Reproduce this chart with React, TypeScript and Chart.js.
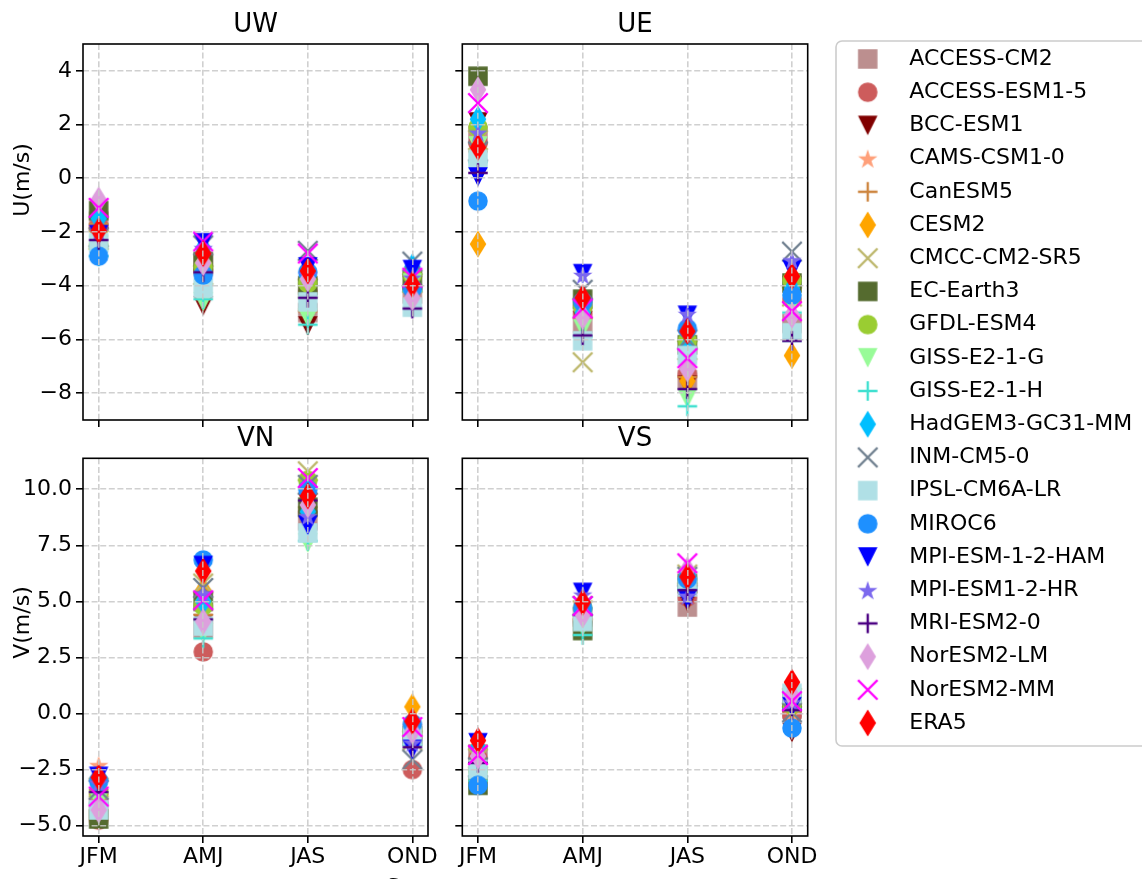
import React, { useEffect, useRef } from 'react';
import { Chart, registerables } from 'chart.js';

Chart.register(...registerables);

const FONT = '"DejaVu Sans", sans-serif';

// ---------- data ----------
const SEASONS = ['JFM', 'AMJ', 'JAS', 'OND'];

const MODELS = [
  'ACCESS-CM2', 'ACCESS-ESM1-5', 'BCC-ESM1', 'CAMS-CSM1-0', 'CanESM5', 'CESM2',
  'CMCC-CM2-SR5', 'EC-Earth3', 'GFDL-ESM4', 'GISS-E2-1-G', 'GISS-E2-1-H',
  'HadGEM3-GC31-MM', 'INM-CM5-0', 'IPSL-CM6A-LR', 'MIROC6', 'MPI-ESM-1-2-HAM',
  'MPI-ESM1-2-HR', 'MRI-ESM2-0', 'NorESM2-LM', 'NorESM2-MM', 'ERA5',
];

const COLORS = [
  '#bc8f8f', '#cd5c5c', '#800000', '#ffa07a', '#cd853f', '#ffa500',
  '#bdb76b', '#556b2f', '#9acd32', '#98fb98', '#40e0d0',
  '#00bfff', '#708090', '#b0e0e6', '#1e90ff', '#0000ff',
  '#7b68ee', '#4b0082', '#dda0dd', '#ff00ff', '#ff0000',
];

const MARKERS = ['s', 'o', 'v', '*', '+', 'd', 'x', 's', 'o', 'v', '+', 'd', 'x', 's', 'o', 'v', '*', '+', 'd', 'x', 'd'];

// rows follow MODELS order; columns follow SEASONS
const UW_VALUES = [
  [-1.6, -3.2, -5.0, -4.3],
  [-1.8, -3.5, -4.2, -4.1],
  [-2.2, -4.75, -5.5, -4.0],
  [-1.9, -3.3, -4.0, -3.8],
  [-1.7, -3.4, -4.95, -4.2],
  [-2.0, -3.0, -3.9, -4.0],
  [-2.3, -3.6, -4.1, -3.9],
  [-1.2, -3.1, -4.0, -3.8],
  [-2.5, -3.3, -3.9, -3.6],
  [-2.5, -4.6, -5.2, -3.9],
  [-2.9, -4.5, -5.45, -4.2],
  [-1.5, -2.6, -3.4, -3.3],
  [-2.2, -2.5, -2.7, -3.1],
  [-2.4, -4.1, -4.6, -4.8],
  [-2.9, -3.6, -3.5, -4.1],
  [-2.1, -2.4, -3.3, -3.4],
  [-2.0, -2.6, -3.6, -3.7],
  [-2.3, -3.5, -4.45, -4.85],
  [-0.8, -3.15, -3.75, -4.45],
  [-1.1, -2.35, -2.8, -3.7],
  [-1.95, -2.8, -3.45, -3.95],
];

const UE_VALUES = [
  [1.6, -5.4, -7.5, -5.4],
  [1.3, -5.0, -7.3, -4.5],
  [2.1, -5.3, -7.7, -4.0],
  [1.5, -4.9, -6.9, -4.2],
  [1.0, -5.2, -7.4, -4.6],
  [-2.45, -4.7, -7.55, -6.6],
  [1.42, -6.85, -6.4, -4.4],
  [3.8, -4.5, -6.2, -3.9],
  [1.9, -4.8, -6.05, -3.8],
  [1.2, -5.6, -8.2, -4.7],
  [0.6, -5.9, -8.49, -5.0],
  [2.2, -5.0, -6.3, -4.1],
  [1.0, -4.15, -6.0, -2.73],
  [0.7, -6.05, -6.6, -5.75],
  [-0.85, -4.6, -5.6, -4.35],
  [0.05, -3.55, -5.1, -3.4],
  [1.7, -3.6, -5.05, -3.05],
  [0.2, -5.85, -7.85, -6.05],
  [3.3, -5.15, -7.1, -5.1],
  [2.8, -4.85, -6.7, -4.95],
  [1.15, -4.45, -5.7, -3.65],
];

const VN_VALUES = [
  [-4.2, 3.8, 8.6, -0.9],
  [-4.75, 2.75, 9.0, -2.5],
  [-3.8, 4.0, 9.4, -1.5],
  [-2.3, 5.2, 10.0, -0.8],
  [-3.6, 4.4, 9.2, -1.1],
  [-3.2, 5.5, 10.3, 0.3],
  [-3.3, 5.8, 10.8, -1.2],
  [-4.7, 5.0, 9.2, -1.0],
  [-3.5, 4.8, 10.4, -0.8],
  [-3.9, 3.6, 7.6, -1.3],
  [-4.0, 3.35, 7.7, -1.4],
  [-3.2, 5.0, 9.0, -0.6],
  [-3.4, 5.6, 10.2, -2.05],
  [-4.3, 3.9, 8.05, -1.0],
  [-3.0, 6.85, 10.0, -0.45],
  [-2.8, 6.6, 8.4, -1.6],
  [-3.1, 5.35, 8.8, -1.3],
  [-3.5, 4.2, 9.5, -1.5],
  [-4.3, 4.1, 9.3, -0.8],
  [-3.7, 5.05, 10.5, -0.6],
  [-2.85, 6.35, 9.7, -0.35],
];

const VS_VALUES = [
  [-1.8, 4.3, 4.75, 0.2],
  [-2.0, 4.1, 5.2, -0.1],
  [-3.2, 3.9, 5.0, -0.85],
  [-2.3, 4.4, 5.5, 0.0],
  [-2.5, 4.2, 5.4, 0.1],
  [-2.2, 4.5, 5.9, 0.3],
  [-2.0, 4.6, 6.2, 0.7],
  [-3.2, 3.7, 5.8, 0.6],
  [-2.6, 4.7, 6.0, 0.4],
  [-2.8, 3.9, 5.9, 0.4],
  [-3.0, 3.5, 5.6, 0.2],
  [-1.5, 4.9, 6.3, 0.8],
  [-2.4, 4.8, 6.1, 0.05],
  [-2.5, 4.1, 5.65, 0.9],
  [-3.2, 4.7, 6.0, -0.65],
  [-1.3, 5.4, 5.1, 0.3],
  [-1.6, 5.3, 5.25, 0.5],
  [-2.2, 4.4, 5.5, 0.15],
  [-1.9, 4.4, 6.4, 0.8],
  [-1.85, 4.8, 6.7, 0.55],
  [-1.2, 4.95, 6.1, 1.4],
];

const U_TICKS = [-8, -6, -4, -2, 0, 2, 4];
const V_TICKS = [-5, -2.5, 0, 2.5, 5, 7.5, 10];
const U_RANGE = [-9, 5];
const V_RANGE = [-5.46, 11.38];

// ---------- layout ----------
type Panel = {
  title: string; values: number[][]; yTicks: number[]; yRange: number[]; decimals: number;
  left: number; top: number; width: number; height: number;
  aL: number; aR: number; aT: number; aB: number; titleMid: number;
  showX: boolean; showY: boolean;
  yLabel?: { text: string; x: number; y: number };
  xLabel?: { text: string; x: number; y: number };
};

const PANELS: Panel[] = [
  { title: 'UW', values: UW_VALUES, yTicks: U_TICKS, yRange: U_RANGE, decimals: 0,
    left: 0, top: 0, width: 440, height: 440, aL: 83, aR: 428, aT: 44, aB: 420, titleMid: 25,
    showX: false, showY: true, yLabel: { text: 'U(m/s)', x: 29, y: 180 } },
  { title: 'UE', values: UE_VALUES, yTicks: U_TICKS, yRange: U_RANGE, decimals: 0,
    left: 440, top: 0, width: 390, height: 440, aL: 22.3, aR: 367.7, aT: 44, aB: 420, titleMid: 25,
    showX: false, showY: false },
  { title: 'VN', values: VN_VALUES, yTicks: V_TICKS, yRange: V_RANGE, decimals: 1,
    left: 0, top: 420, width: 440, height: 459, aL: 83, aR: 428, aT: 38.3, aB: 416, titleMid: 19.3,
    showX: true, showY: true, yLabel: { text: 'V(m/s)', x: 29, y: 202.5 },
    xLabel: { text: 'Season', x: 426, y: 473.5 } },
  { title: 'VS', values: VS_VALUES, yTicks: V_TICKS, yRange: V_RANGE, decimals: 1,
    left: 440, top: 420, width: 390, height: 459, aL: 22.3, aR: 367.7, aT: 38.3, aB: 416, titleMid: 19.3,
    showX: true, showY: false },
];

const GRID_COLOR = 'rgba(200,200,200,0.85)';

function makeMarker(kind: string, color: string): HTMLCanvasElement {
  const S = 36;
  const c = S / 2;
  const cv = document.createElement('canvas');
  cv.width = S;
  cv.height = S;
  const g = cv.getContext('2d') as CanvasRenderingContext2D;
  g.fillStyle = color;
  g.strokeStyle = color;
  const h = 9.75;
  g.beginPath();
  if (kind === 's') {
    g.rect(c - h, c - h, 2 * h, 2 * h);
    g.fill();
  } else if (kind === 'o') {
    g.arc(c, c, h, 0, Math.PI * 2);
    g.fill();
  } else if (kind === 'v') {
    g.moveTo(c - h, c - h);
    g.lineTo(c + h, c - h);
    g.lineTo(c, c + h);
    g.closePath();
    g.fill();
  } else if (kind === 'd') {
    g.moveTo(c, c - 13.4);
    g.lineTo(c + 8.3, c);
    g.lineTo(c, c + 13.4);
    g.lineTo(c - 8.3, c);
    g.closePath();
    g.fill();
  } else if (kind === '*') {
    const R = 10.2;
    const r = R * 0.381966;
    for (let k = 0; k < 10; k++) {
      const ang = -Math.PI / 2 + (k * Math.PI) / 5;
      const rad = k % 2 === 0 ? R : r;
      const px = c + rad * Math.cos(ang);
      const py = c + 1 + rad * Math.sin(ang);
      if (k === 0) g.moveTo(px, py);
      else g.lineTo(px, py);
    }
    g.closePath();
    g.fill();
  } else if (kind === '+') {
    g.lineWidth = 2.4;
    g.moveTo(c - h, c);
    g.lineTo(c + h, c);
    g.moveTo(c, c - h);
    g.lineTo(c, c + h);
    g.stroke();
  } else if (kind === 'x') {
    g.lineWidth = 2.4;
    g.moveTo(c - h, c - h);
    g.lineTo(c + h, c + h);
    g.moveTo(c - h, c + h);
    g.lineTo(c + h, c - h);
    g.stroke();
  }
  return cv;
}

function makeExtras(p: Panel) {
  return {
    id: 'extras' + p.title,
    afterDraw(chart: any) {
      const ctx = chart.ctx as CanvasRenderingContext2D;
      const a = chart.chartArea;
      ctx.save();
      ctx.strokeStyle = '#000';
      ctx.lineWidth = 1.6;
      ctx.strokeRect(a.left, a.top, a.right - a.left, a.bottom - a.top);
      ctx.fillStyle = '#000';
      ctx.font = '22px ' + FONT;
      ctx.textAlign = 'center';
      ctx.textBaseline = 'alphabetic';
      if (p.xLabel) ctx.fillText(p.xLabel.text, p.xLabel.x, p.xLabel.y);
      if (p.yLabel) {
        ctx.translate(p.yLabel.x, p.yLabel.y);
        ctx.rotate(-Math.PI / 2);
        ctx.fillText(p.yLabel.text, 0, 0);
      }
      ctx.restore();
    },
  };
}

function fmt(v: number, d: number) {
  return v.toFixed(d).replace('-', '\u2212');
}

function gridOpts() {
  return {
    color: GRID_COLOR,
    lineWidth: 1.6,
    drawTicks: true,
    tickLength: 7,
    tickColor: '#000',
    tickWidth: 1.6,
    tickBorderDash: [],
    z: 1,
  };
}

function buildPanel(p: Panel, markers: HTMLCanvasElement[]) {
  const titlePadTop = p.titleMid - 15.6;
  const titlePadBottom = p.aT - 31.2 - titlePadTop;
  return {
    type: 'scatter',
    data: {
      datasets: MODELS.map((name, i) => ({
        label: name,
        data: p.values[i].map((v, j) => ({ x: j, y: v })),
        pointStyle: markers[i],
        pointRadius: 10,
        backgroundColor: COLORS[i],
        borderColor: COLORS[i],
        order: MODELS.length - 1 - i,
      })),
    },
    plugins: [makeExtras(p)],
    options: {
      responsive: false,
      animation: false,
      events: [],
      layout: { autoPadding: false, padding: { left: 0, top: 0, right: p.width - p.aR, bottom: 0 } },
      plugins: {
        legend: { display: false },
        tooltip: { enabled: false },
        title: {
          display: true,
          text: p.title,
          fullSize: false,
          color: '#000',
          font: { family: FONT, size: 26, weight: 'normal' },
          padding: { top: titlePadTop, bottom: titlePadBottom },
        },
      },
      scales: {
        x: {
          type: 'linear',
          min: -0.15,
          max: 3.15,
          afterBuildTicks: (s: any) => {
            s.ticks = SEASONS.map((_, j) => ({ value: j }));
          },
          afterFit: (s: any) => {
            s.height = p.height - p.aB;
          },
          ticks: {
            display: p.showX,
            autoSkip: false,
            maxRotation: 0,
            padding: 1,
            color: '#000',
            font: { family: FONT, size: 22 },
            callback: (v: number) => SEASONS[Math.round(v)],
          },
          grid: gridOpts(),
          border: { display: false, dash: [6, 2.6] },
        },
        y: {
          type: 'linear',
          min: p.yRange[0],
          max: p.yRange[1],
          afterBuildTicks: (s: any) => {
            s.ticks = p.yTicks.map((v) => ({ value: v }));
          },
          afterFit: (s: any) => {
            s.width = p.aL;
          },
          ticks: {
            display: p.showY,
            padding: 4,
            color: '#000',
            font: { family: FONT, size: 22 },
            callback: (v: number) => fmt(v, p.decimals),
          },
          grid: gridOpts(),
          border: { display: false, dash: [6, 2.6] },
        },
      },
    },
  };
}

const legendBoxPlugin = {
  id: 'legendBox',
  beforeDraw(chart: any) {
    const ctx = chart.ctx as CanvasRenderingContext2D;
    ctx.save();
    ctx.fillStyle = '#fff';
    ctx.strokeStyle = '#cccccc';
    ctx.lineWidth = 1.6;
    const x = 16, y = 41, w = 400, h = 705, r = 6;
    ctx.beginPath();
    ctx.moveTo(x + r, y);
    ctx.lineTo(x + w - r, y);
    ctx.arcTo(x + w, y, x + w, y + r, r);
    ctx.lineTo(x + w, y + h - r);
    ctx.arcTo(x + w, y + h, x + w - r, y + h, r);
    ctx.lineTo(x + r, y + h);
    ctx.arcTo(x, y + h, x, y + h - r, r);
    ctx.lineTo(x, y + r);
    ctx.arcTo(x, y, x + r, y, r);
    ctx.closePath();
    ctx.fill();
    ctx.stroke();
    ctx.restore();
  },
};

function buildLegend(markers: HTMLCanvasElement[]) {
  return {
    type: 'scatter',
    data: {
      datasets: MODELS.map((name, i) => ({
        label: name,
        data: [],
        pointStyle: markers[i],
        backgroundColor: COLORS[i],
        borderColor: COLORS[i],
      })),
    },
    plugins: [legendBoxPlugin],
    options: {
      responsive: false,
      animation: false,
      events: [],
      layout: { autoPadding: false, padding: { left: 5.9, top: 36.8, right: 0, bottom: 0 } },
      scales: { x: { display: false }, y: { display: false } },
      plugins: {
        tooltip: { enabled: false },
        title: { display: false },
        legend: {
          display: true,
          position: 'left',
          align: 'start',
          maxWidth: 2000,
          labels: {
            usePointStyle: true,
            pointStyleWidth: 61.2,
            padding: 11.2,
            color: '#000',
            textAlign: 'left',
            font: { family: FONT, size: 22 },
            generateLabels: (chart: any) =>
              chart.data.datasets.map((ds: any, i: number) => ({
                text: ds.label,
                pointStyle: ds.pointStyle,
                fillStyle: COLORS[i],
                strokeStyle: COLORS[i],
                lineWidth: 0,
                hidden: false,
                datasetIndex: i,
                fontColor: '#000',
                textAlign: 'left',
              })),
          },
        },
      },
    },
  };
}

export default function App() {
  const r0 = useRef<HTMLCanvasElement>(null);
  const r1 = useRef<HTMLCanvasElement>(null);
  const r2 = useRef<HTMLCanvasElement>(null);
  const r3 = useRef<HTMLCanvasElement>(null);
  const rL = useRef<HTMLCanvasElement>(null);
  const refs = [r0, r1, r2, r3];

  useEffect(() => {
    const markers = MARKERS.map((m, i) => makeMarker(m, COLORS[i]));
    const charts: Chart[] = PANELS.map(
      (p, k) => new Chart(refs[k].current as HTMLCanvasElement, buildPanel(p, markers) as any)
    );
    charts.push(new Chart(rL.current as HTMLCanvasElement, buildLegend(markers) as any));
    return () => charts.forEach((c) => c.destroy());
  }, []);

  return (
    <div style={{ position: 'absolute', left: 0, top: 0, width: 1142, height: 879, background: '#fff', overflow: 'hidden' }}>
      {PANELS.map((p, k) => (
        <canvas
          key={p.title}
          ref={refs[k]}
          width={p.width}
          height={p.height}
          style={{ position: 'absolute', left: p.left, top: p.top, width: p.width, height: p.height }}
        />
      ))}
      <canvas
        ref={rL}
        width={322}
        height={879}
        style={{ position: 'absolute', left: 820, top: 0, width: 322, height: 879 }}
      />
    </div>
  );
}
